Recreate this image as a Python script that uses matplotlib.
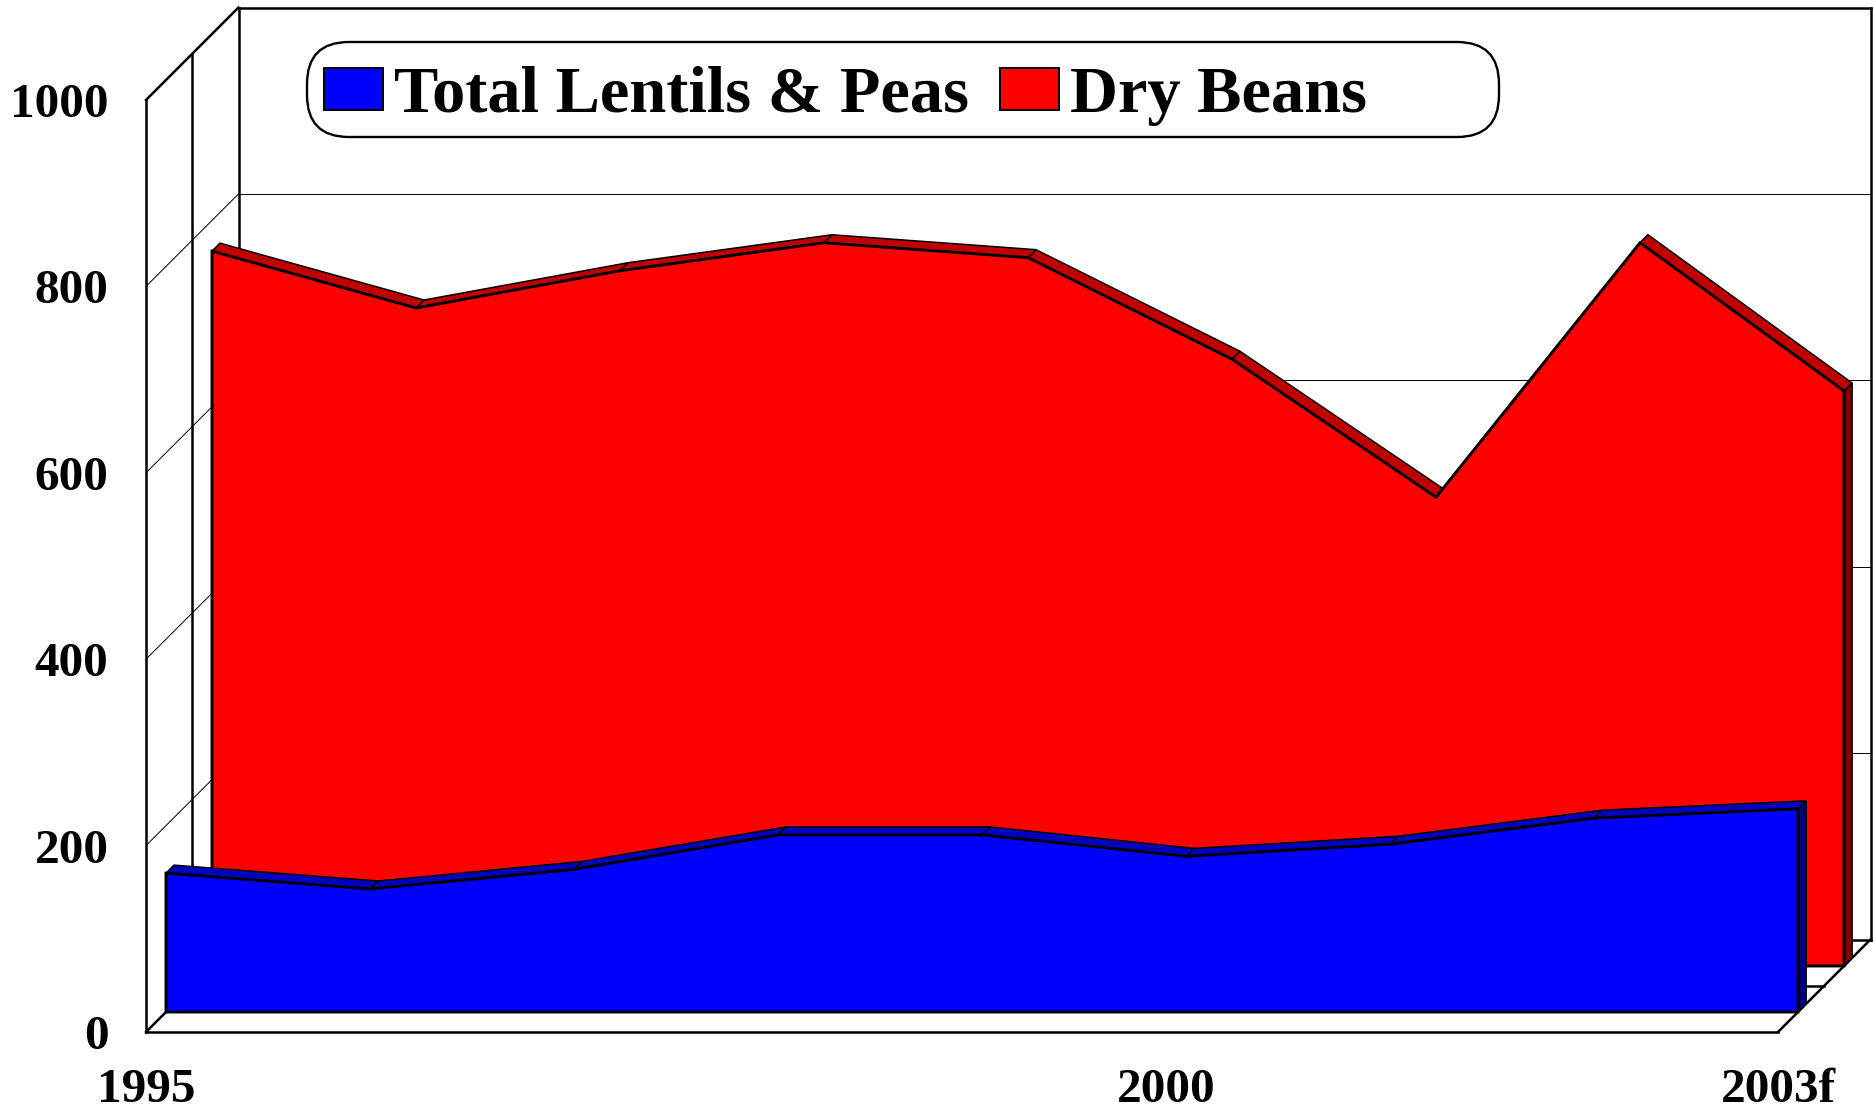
import matplotlib
matplotlib.use("Agg")
import matplotlib.pyplot as plt
from matplotlib.patches import Patch, FancyBboxPatch

plt.rcParams['font.family'] = ['Liberation Serif', 'DejaVu Serif']
plt.rcParams['font.weight'] = 'bold'

years = ['1995', '1996', '1997', '1998', '1999', '2000', '2001', '2002', '2003f']
lentils_peas = [149, 132, 153, 190, 190, 167, 180, 208, 218]
dry_beans = [767, 706, 746, 776, 760, 651, 503, 776, 617]
y_ticks = [0, 200, 400, 600, 800, 1000]
x_tick_idx = [0, 5, 8]

W, H = 1873, 1110
L, R, T, B = 146, 1778, 100, 1032
fig = plt.figure(figsize=(W / 100, H / 100), dpi=100, facecolor='white')
ax = fig.add_axes([L / W, 1 - B / H, (R - L) / W, (B - T) / H])
n = len(years) - 1
ax.set_xlim(0, n)
ax.set_ylim(0, 1000)
PX = (R - L) / n
PY = (B - T) / 1000
BACK = 92.5
MID = 46


def pr(i, v, d=0):
    return i + d / PX, v + d / PY


def seg(p, q, lw=1.8, z=1, color='black'):
    ax.plot([p[0], q[0]], [p[1], q[1]], color=color, lw=lw, zorder=z,
            clip_on=False, solid_capstyle='projecting', solid_joinstyle='miter')


# walls and floor
seg(pr(0, 0, BACK), pr(0, 1000, BACK))
seg(pr(0, 1000, BACK), pr(n, 1000, BACK))
seg(pr(n, 1000, BACK), pr(n, 0, BACK))
seg(pr(0, 0, BACK), pr(n, 0, BACK))
seg(pr(0, 0), pr(0, 1000))
seg(pr(0, 1000), pr(0, 1000, BACK))
seg(pr(0, 0), pr(n, 0))
seg(pr(0, 0), pr(0, 0, BACK))
seg(pr(n, 0), pr(n, 0, BACK))
seg(pr(0, 0, MID), pr(0, 1000, MID))
seg(pr(0, 0, MID), pr(n, 0, MID))
for v in y_ticks[1:-1]:
    seg(pr(0, v), pr(0, v, BACK), lw=0.7)
    seg(pr(0, v, BACK), pr(n, v, BACK), lw=0.7)


def area(values, d0, d1, front, top, side, z):
    xs = list(range(len(values)))
    px = [pr(n, 0, d0), pr(n, values[-1], d0), pr(n, values[-1], d1), pr(n, 0, d1)]
    ax.fill(*zip(*px), facecolor=side, edgecolor='black', lw=1.3, zorder=z,
            clip_on=False, joinstyle='miter')
    for i in range(n):
        q = [pr(i, values[i], d0), pr(i + 1, values[i + 1], d0),
             pr(i + 1, values[i + 1], d1), pr(i, values[i], d1)]
        ax.fill(*zip(*q), facecolor=top, edgecolor='black', lw=1.1, zorder=z,
                clip_on=False, joinstyle='miter')
    pts = [pr(0, 0, d0)] + [pr(i, values[i], d0) for i in xs] + [pr(n, 0, d0)]
    ax.fill(*zip(*pts), facecolor=front, edgecolor='black', lw=2.1, zorder=z + 0.1,
            clip_on=False, joinstyle='miter')


area(dry_beans, 66, 74, '#FF0000', '#C00000', '#800000', 3)
area(lentils_peas, 20, 28, '#0000FF', '#0000C0', '#000080', 5)

for s in ax.spines.values():
    s.set_visible(False)
ax.patch.set_visible(False)
ax.set_yticks(y_ticks)
ax.set_yticklabels([str(v) for v in y_ticks], va='center_baseline')
ax.set_xticks(x_tick_idx)
ax.set_xticklabels([years[i] for i in x_tick_idx])
ax.tick_params(axis='y', length=0, pad=27, labelsize=35.5)
ax.tick_params(axis='x', length=0, pad=26, labelsize=35.5)

# rounded legend panel (fixed width, wider than the legend entries)
R_BOX = 42
box = FancyBboxPatch((307 + R_BOX, H - 137 + R_BOX), 1499 - 307 - 2 * R_BOX, 95 - 2 * R_BOX,
                     boxstyle=f'round,pad={R_BOX},rounding_size={R_BOX}',
                     transform=None, facecolor='white', edgecolor='black',
                     lw=1.7, zorder=9)
fig.add_artist(box)
box.set_transform(None)

handles = [Patch(facecolor='#0000FF', edgecolor='black', lw=1.4),
           Patch(facecolor='#FF0000', edgecolor='black', lw=1.4)]
leg = fig.legend(handles, ['Total Lentils & Peas', 'Dry Beans'], ncol=2,
                 loc='center left', bbox_to_anchor=(324 / W, 1 - 96 / H),
                 borderaxespad=0, fontsize=47.8, frameon=False,
                 handlelength=0.89, handleheight=0.6, handletextpad=0.165,
                 columnspacing=0.47, borderpad=0)
leg.set_zorder(10)

fig.savefig('out.png', dpi=100, facecolor='white')
